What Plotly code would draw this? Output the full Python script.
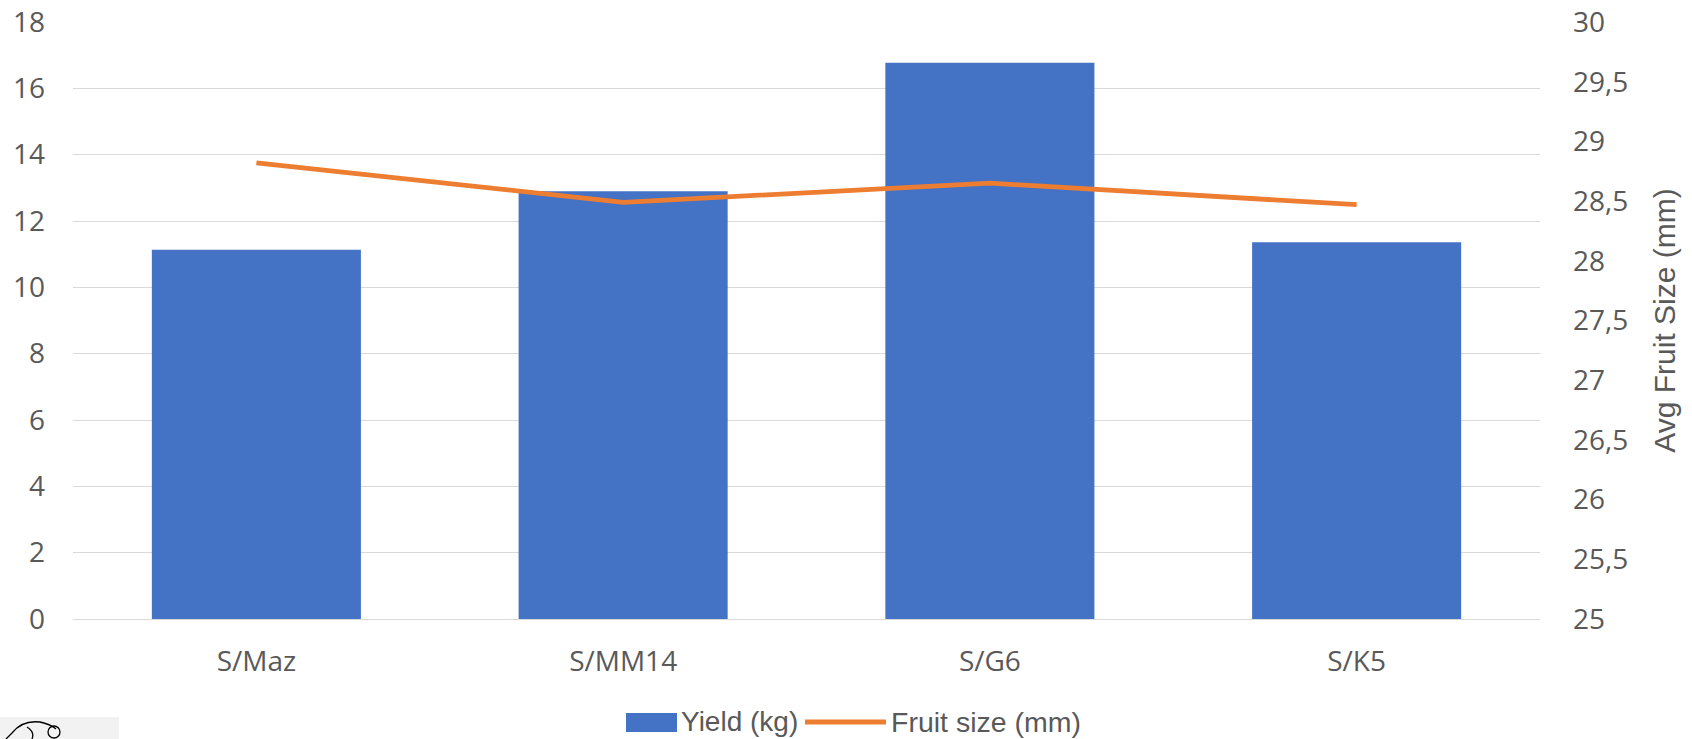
import plotly.graph_objects as go

# Rootstock trial results
rootstocks = ["S/Maz", "S/MM14", "S/G6", "S/K5"]
yield_kg = [11.13, 12.9, 16.77, 11.36]
fruit_size_mm = [28.82, 28.49, 28.65, 28.47]

left_ticks = [0, 2, 4, 6, 8, 10, 12, 14, 16, 18]
right_ticks = [25, 25.5, 26, 26.5, 27, 27.5, 28, 28.5, 29, 29.5, 30]

BLUE = "#4472C4"
ORANGE = "#ED7D31"
GRID = "#D9D9D9"
TEXT = "#595959"
TICK_FONT = "Open Sans, DejaVu Sans, sans-serif"
NARROW_FONT = "Liberation Sans Narrow, Liberation Sans, Arial, sans-serif"

W, H = 1692, 739
L, R, T, B = 73, 152, 22, 120
PW, PH = W - L - R, H - T - B


def px(x):
    return (x - L) / PW


def py(y):
    return (H - B - y) / PH


fig = go.Figure()

fig.add_trace(go.Bar(
    x=rootstocks, y=yield_kg, name="Yield (kg)",
    marker=dict(color=BLUE, line=dict(width=0)),
    yaxis="y",
))
fig.add_trace(go.Scatter(
    x=rootstocks, y=fruit_size_mm, name="Fruit size (mm)",
    mode="lines", line=dict(color=ORANGE, width=4.8),
    yaxis="y2",
))

# Legend drawn below the plot
shapes = [
    dict(type="rect", xref="paper", yref="paper",
         x0=px(626), x1=px(677), y0=py(732), y1=py(713),
         fillcolor=BLUE, line=dict(width=0)),
    dict(type="line", xref="paper", yref="paper",
         x0=px(805), x1=px(886), y0=py(722), y1=py(722),
         line=dict(color=ORANGE, width=5)),
    # small badge in the corner
    dict(type="rect", xref="paper", yref="paper",
         x0=px(0), x1=px(119), y0=py(739), y1=py(717),
         fillcolor="#F2F2F2", line=dict(width=0), layer="below"),
    dict(type="path", xref="paper", yref="paper",
         path=(f"M {px(6)} {py(739)} L {px(12)} {py(733)} "
               f"Q {px(22)} {py(720)} {px(40)} {py(722)} "
               f"Q {px(50)} {py(724)} {px(56)} {py(729)}"),
         line=dict(color="black", width=1.3)),
    dict(type="path", xref="paper", yref="paper",
         path=(f"M {px(27)} {py(727)} Q {px(35)} {py(732)} {px(32)} {py(739)}"),
         line=dict(color="black", width=1.3)),
    dict(type="circle", xref="paper", yref="paper",
         x0=px(48), x1=px(60), y0=py(738), y1=py(726),
         line=dict(color="black", width=1.3)),
]

annotations = [
    dict(text="Yield (kg)", xref="paper", yref="paper",
         x=px(679), y=py(722), xanchor="left", yanchor="middle",
         showarrow=False, font=dict(family=NARROW_FONT, size=28, color=TEXT)),
    dict(text="Fruit size (mm)", xref="paper", yref="paper",
         x=px(889), y=py(722), xanchor="left", yanchor="middle",
         showarrow=False, font=dict(family=NARROW_FONT, size=28.5, color=TEXT)),
]

fig.update_layout(
    width=W, height=H,
    margin=dict(l=L, r=R, t=T, b=B, pad=0, autoexpand=False),
    paper_bgcolor="white", plot_bgcolor="white",
    separators=", ",
    showlegend=False,
    bargap=0.43,
    shapes=shapes,
    annotations=annotations,
    xaxis=dict(
        showgrid=False, showline=False, zeroline=False, ticks="",
        automargin=False,
        tickfont=dict(family=TICK_FONT, size=28, color=TEXT),
        ticklabelstandoff=23,
    ),
    yaxis=dict(
        range=[0, 18], tickvals=left_ticks,
        showgrid=True, gridcolor=GRID, gridwidth=1.3,
        zeroline=True, zerolinecolor=GRID, zerolinewidth=1.3,
        showline=False, ticks="", automargin=False,
        tickfont=dict(family=TICK_FONT, size=28, color=TEXT),
        ticklabelstandoff=27,
    ),
    yaxis2=dict(
        range=[25, 30], tickvals=right_ticks,
        overlaying="y", side="right",
        showgrid=False, zeroline=False, showline=False, ticks="",
        automargin=False,
        tickfont=dict(family=TICK_FONT, size=28, color=TEXT),
        ticklabelstandoff=32,
        title=dict(text="Avg Fruit Size (mm)", standoff=26,
                   font=dict(family=NARROW_FONT, size=30, color=TEXT)),
    ),
)

fig.write_html("out.html")
